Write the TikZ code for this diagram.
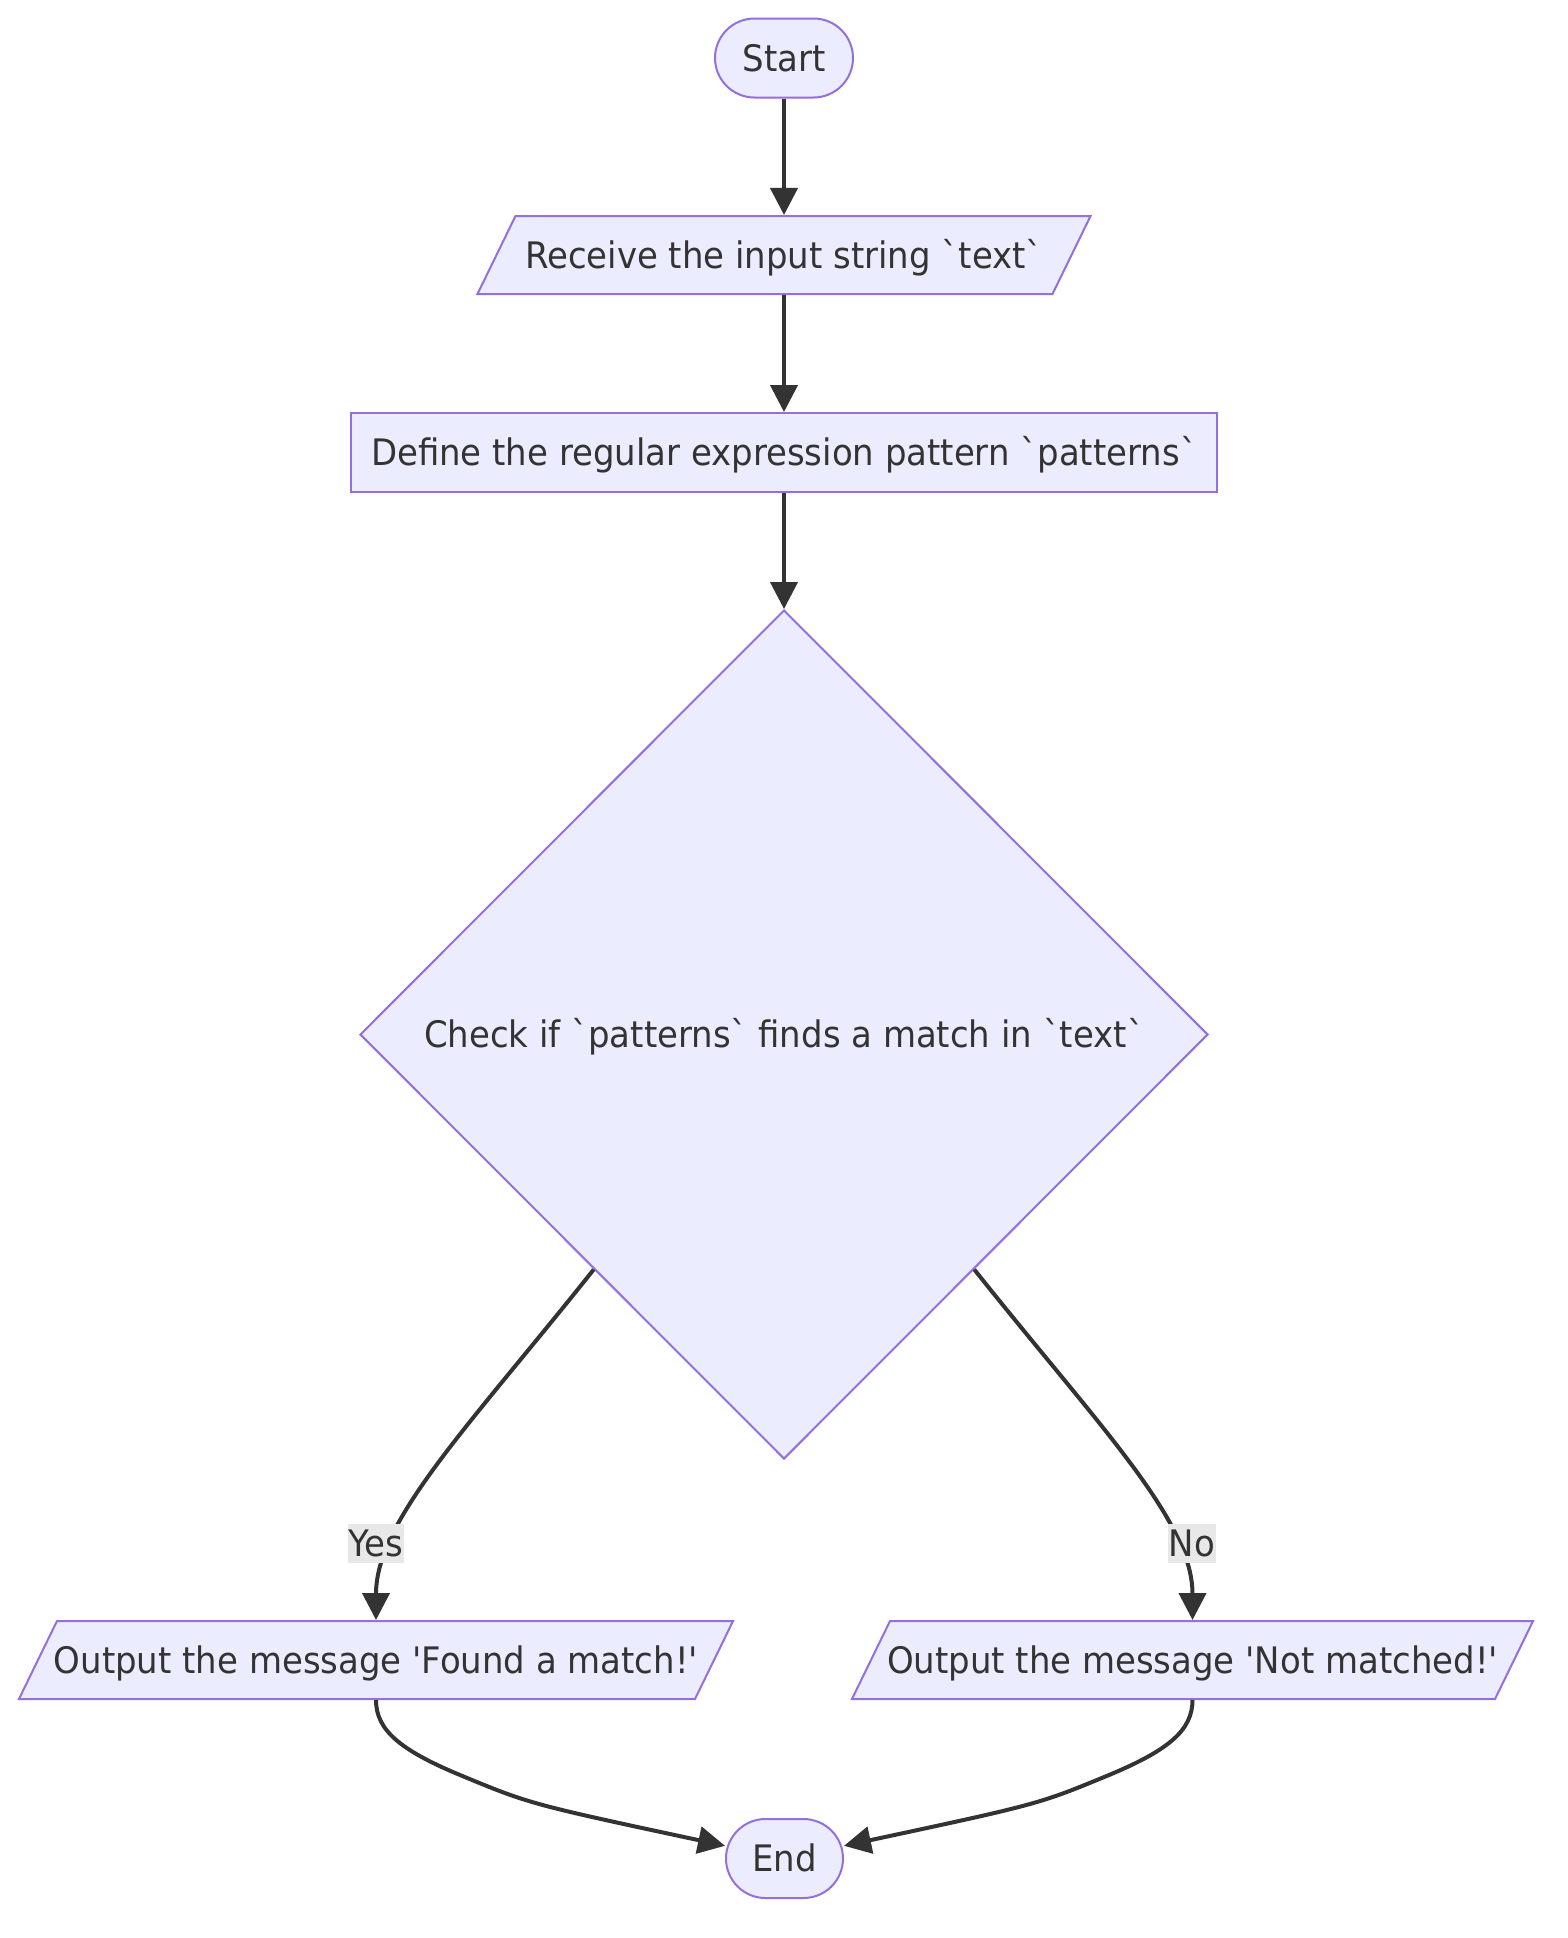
\documentclass[tikz,border=0pt]{standalone}
\usepackage{fontspec}
\newfontfamily\dvs{DejaVu Sans}[FakeStretch=0.93]
\usetikzlibrary{shapes.geometric,arrows.meta}
\definecolor{nodefill}{HTML}{ECECFF}
\definecolor{nodestroke}{HTML}{9370DB}
\definecolor{edgecol}{HTML}{333333}
\definecolor{textcol}{HTML}{333333}
\definecolor{labelbg}{HTML}{E8E8E8}
\newcommand\dfont{\dvs\fontsize{36.5pt}{44pt}\selectfont}
\tikzset{
  base/.style={draw=nodestroke, fill=nodefill, line width=2pt, text=textcol, font=\dfont,
    inner sep=0pt, text height=26pt, text depth=0pt},
  term/.style={base, rectangle, rounded corners=39.5pt, minimum height=79pt},
  procbox/.style={base, rectangle, minimum height=79pt},
  iobox/.style={base, trapezium, trapezium left angle=64, trapezium right angle=116,
    inner xsep=0pt, inner ysep=26pt},
  decbox/.style={base, diamond, aspect=1},
  edge/.style={draw=edgecol, line width=4pt, -{Triangle[length=27pt,width=27pt]}},
  elabel/.style={fill=labelbg, text=textcol, font=\dfont, inner xsep=1pt, inner ysep=0pt,
    minimum height=39pt, text height=26pt, text depth=0pt}
}
\begin{document}
\begin{tikzpicture}[x=1pt,y=-1pt]
\fill[white] (0,0) rectangle (1568,1938);
\useasboundingbox (0,0) rectangle (1568,1938);

\node[term, minimum width=138pt] (start) at (784,58) {Start};
\node[iobox] (recv) at (784,255) {\makebox[537pt]{Receive the input string `text`}};
\node[procbox, minimum width=866pt] (def) at (784,452.5) {Define the regular expression pattern `patterns`};
\node[decbox, minimum width=848pt, minimum height=849pt] (dec) at (784,1034.5) {Check if `patterns` finds a match in `text`};
\node[iobox] (yesout) at (376,1660) {\makebox[638pt]{Output the message 'Found a match!'}};
\node[iobox] (noout) at (1192.5,1660) {\makebox[605pt]{Output the message 'Not matched!'}};
\node[term, minimum width=117pt] (endn) at (784.5,1858.5) {End};

\draw[edge] (start) -- (recv);
\draw[edge] (recv) -- (def);
\draw[edge] (def) -- (dec);
\draw[edge] (dec.231) .. controls (470,1425) and (376,1520) .. (yesout);
\draw[edge] (dec.309) .. controls (1098,1425) and (1192.5,1520) .. (noout);
\draw[edge] (yesout) .. controls (376,1730) and (400,1750) .. (460,1775)
  .. controls (530,1804) .. (endn);
\draw[edge] (noout) .. controls (1192.5,1730) and (1169,1750) .. (1109,1775)
  .. controls (1039,1804) .. (endn);

\node[elabel] (lyes) at (376,1543) {Yes};
\node[elabel] (lno) at (1192,1543) {No};
\end{tikzpicture}
\end{document}
